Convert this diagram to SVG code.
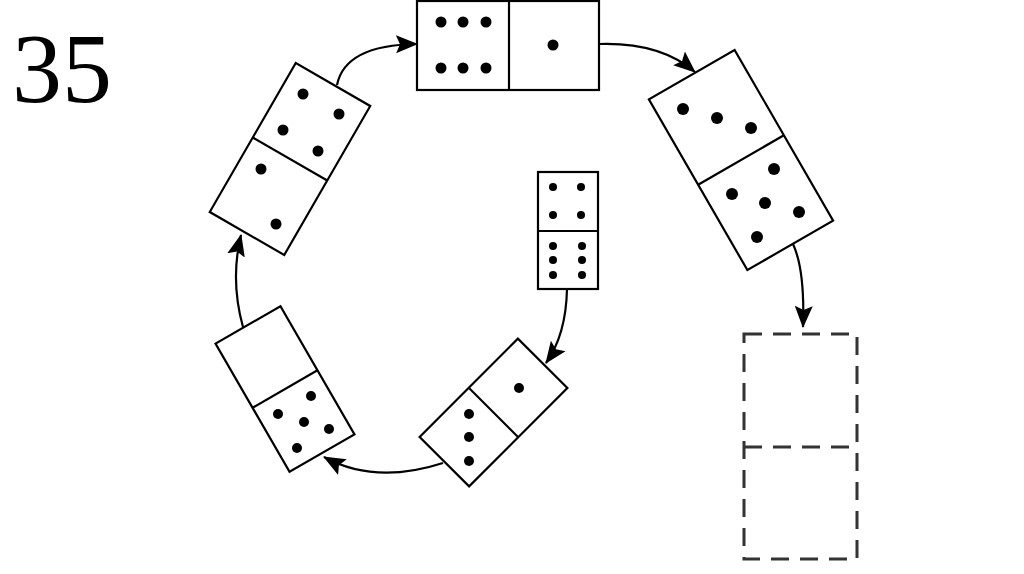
<svg xmlns="http://www.w3.org/2000/svg" width="1024" height="574" viewBox="0 0 1024 574">
<defs>
<style>
.dom{fill:#fff;stroke:#000;stroke-width:2.2}
.div{stroke:#000;stroke-width:2.2}
.pip{fill:#000}
.con{fill:none;stroke:#000;stroke-width:2.2;marker-end:url(#ah)}
.dash{fill:none;stroke:#333;stroke-width:3;stroke-dasharray:18 11}
.num{font-family:"Liberation Serif",serif;font-size:100px;fill:#000}
</style>
<marker id="ah" viewBox="0 0 22 20" refX="21" refY="10" markerWidth="22" markerHeight="20" markerUnits="userSpaceOnUse" orient="auto">
<path d="M0,1 L22,10 L0,19 L4,10 Z" fill="#000"/>
</marker>
</defs>
<rect width="1024" height="574" fill="#fff"/>
<text class="num" x="12" y="102">35</text>
<g id="connectors">
<path class="con" d="M599,44 Q660,42 695,72"/>
<path class="con" d="M793,244 Q805,270 803,327"/>
<path class="con" d="M567,289 Q566,335 546,363"/>
<path class="con" d="M443,463 Q375,485 324,457"/>
<path class="con" d="M243,327 Q230,280 241,235"/>
<path class="con" d="M337,85 Q345,45 417,44"/>
</g>
<g id="top-domino">
<rect class="dom" x="417" y="1" width="182" height="89"/>
<line class="div" x1="509" y1="1" x2="509" y2="90"/>
<circle class="pip" cx="441" cy="22" r="5.5"/>
<circle class="pip" cx="463" cy="22" r="5.5"/>
<circle class="pip" cx="486" cy="22" r="5.5"/>
<circle class="pip" cx="441" cy="68" r="5.5"/>
<circle class="pip" cx="463" cy="68" r="5.5"/>
<circle class="pip" cx="486" cy="68" r="5.5"/>
<circle class="pip" cx="553" cy="45" r="5.5"/>
</g>
<g id="right-domino">
<g transform="translate(741,160) rotate(-30)">
<rect class="dom" x="-49.5" y="-98.5" width="99" height="197"/>
<line class="div" x1="-49.5" y1="0" x2="49.5" y2="0"/>
</g>
<circle class="pip" cx="683" cy="109" r="6"/>
<circle class="pip" cx="717" cy="118" r="6"/>
<circle class="pip" cx="751" cy="128" r="6"/>
<circle class="pip" cx="774" cy="169" r="6"/>
<circle class="pip" cx="732" cy="194" r="6"/>
<circle class="pip" cx="765" cy="203" r="6"/>
<circle class="pip" cx="799" cy="212" r="6"/>
<circle class="pip" cx="757" cy="237" r="6"/>
</g>
<g id="empty-domino">
<rect class="dash" x="744" y="334" width="113" height="225"/>
<line class="dash" x1="744" y1="447" x2="857" y2="447"/>
</g>
<g id="center-domino">
<rect class="dom" x="538" y="172" width="60" height="117"/>
<line class="div" x1="538" y1="231" x2="598" y2="231"/>
<circle class="pip" cx="553" cy="187" r="4"/>
<circle class="pip" cx="581" cy="187" r="4"/>
<circle class="pip" cx="553" cy="215" r="4"/>
<circle class="pip" cx="581" cy="215" r="4"/>
<circle class="pip" cx="553" cy="246" r="4"/>
<circle class="pip" cx="582" cy="246" r="4"/>
<circle class="pip" cx="553" cy="260" r="4"/>
<circle class="pip" cx="582" cy="260" r="4"/>
<circle class="pip" cx="553" cy="275" r="4"/>
<circle class="pip" cx="582" cy="275" r="4"/>
</g>
<g id="bottom-domino">
<g transform="translate(493.5,412.5) rotate(45)">
<rect class="dom" x="-35" y="-69.5" width="70" height="139"/>
<line class="div" x1="-35" y1="0" x2="35" y2="0"/>
</g>
<circle class="pip" cx="519" cy="388" r="5"/>
<circle class="pip" cx="469" cy="414" r="5"/>
<circle class="pip" cx="469" cy="437" r="5"/>
<circle class="pip" cx="469" cy="461" r="5"/>
</g>
<g id="left-bottom-domino">
<g transform="translate(285,389) rotate(-30)">
<rect class="dom" x="-37.5" y="-74" width="75" height="148"/>
<line class="div" x1="-37.5" y1="0" x2="37.5" y2="0"/>
</g>
<circle class="pip" cx="311" cy="396" r="5"/>
<circle class="pip" cx="278" cy="414" r="5"/>
<circle class="pip" cx="304" cy="422" r="5"/>
<circle class="pip" cx="329" cy="429" r="5"/>
<circle class="pip" cx="297" cy="448" r="5"/>
</g>
<g id="left-top-domino">
<g transform="translate(290,159) rotate(30)">
<rect class="dom" x="-43" y="-86" width="86" height="172"/>
<line class="div" x1="-43" y1="0" x2="43" y2="0"/>
</g>
<circle class="pip" cx="303" cy="94" r="5.5"/>
<circle class="pip" cx="339" cy="114" r="5.5"/>
<circle class="pip" cx="283" cy="130" r="5.5"/>
<circle class="pip" cx="318" cy="151" r="5.5"/>
<circle class="pip" cx="261" cy="169" r="5.5"/>
<circle class="pip" cx="276" cy="224" r="5.5"/>
</g>
</svg>
